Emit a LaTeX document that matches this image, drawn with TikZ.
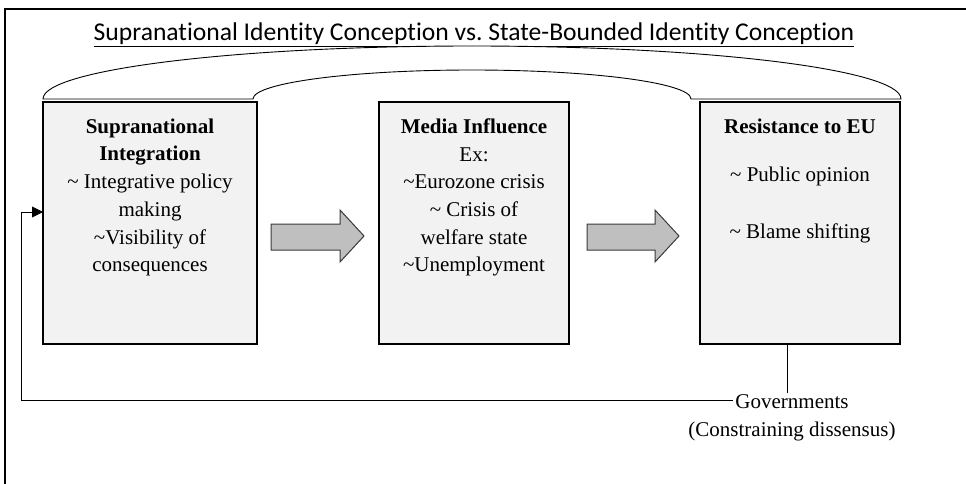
\documentclass[tikz,border=0pt]{standalone}
\usepackage{fontspec}
\setmainfont{Liberation Serif}
\newfontfamily\titlefont[Ligatures=NoCommon]{Carlito}
\usetikzlibrary{arrows.meta}
\definecolor{boxfill}{HTML}{F2F2F2}
\definecolor{arrfill}{HTML}{BFBFBF}
\definecolor{arrline}{HTML}{3A3A3A}
\tikzset{
  stagebox/.style={draw=black, line width=1.4pt, fill=boxfill},
  boxtext/.style={align=center, font=\fontsize{21}{27.7}\selectfont, inner sep=0pt, anchor=north},
  blockarrow/.style={draw=arrline, line width=1pt, fill=arrfill, line join=miter},
  thinline/.style={line width=0.9pt},
}
\frenchspacing
\begin{document}
\begin{tikzpicture}[x=1pt,y=-1pt]
\useasboundingbox (0,0) rectangle (966,484);
% frame (top and left visible)
\draw[line width=1.6pt] (966,9) -- (5,9) -- (5,484);
% title
\node[font=\titlefont\fontsize{25.6}{30}\selectfont, inner sep=0pt, anchor=base] (title) at (474,41) {\underline{Supranational Identity Conception vs.\ State-Bounded Identity Conception}};
% boxes
\draw[stagebox] (43,102) rectangle (257,344);
\draw[stagebox] (379,102) rectangle (569,344);
\draw[stagebox] (700,102) rectangle (900,344);
\coordinate (b1) at (150,118.5);
\coordinate (b2) at (474,118.5);
\coordinate (b3) at (800,118.5);
\node[boxtext] (t1) at (b1) {\textbf{Supranational}\\\textbf{Integration}\\\char`\~{} Integrative policy\\making\\\char`\~Visibility of\\consequences};
\node[boxtext] (t2) at (b2) {\textbf{Media Influence}\\Ex:\\\char`\~Eurozone crisis\\\char`\~{} Crisis of\\welfare state\\\char`\~Unemployment};
\node[boxtext] (t3) at (b3) {\textbf{Resistance to EU}\\[20.3pt]\char`\~{} Public opinion\\[29.3pt]\char`\~{} Blame shifting};
% block arc over boxes
\draw[thinline, fill=white] (43,99) arc[start angle=180, end angle=360, x radius=429, y radius=53]
  -- (691,99) arc[start angle=0, end angle=-180, x radius=219, y radius=29] -- cycle;
% block arrows
\draw[blockarrow] (271,224) -- (340,224) -- (340,210) -- (364,236) -- (340,262) -- (340,250) -- (271,250) -- cycle;
\draw[blockarrow] (587,224) -- (655,224) -- (655,210) -- (679,236) -- (655,262) -- (655,250) -- (587,250) -- cycle;
% governments
\node[font=\fontsize{21}{28}\selectfont, inner sep=2pt] (gov) at (792,402) {Governments};
\node[font=\fontsize{21}{28}\selectfont, inner sep=2pt] (cons) at (792,431) {(Constraining dissensus)};
\coordinate (g3) at (787,344);
\coordinate (fbc) at (21,400);
\coordinate (fbt) at (21,212);
\coordinate (b1in) at (43,212);
\draw[thinline] (g3) -- (g3 |- gov.north);
\draw[thinline, -{Triangle[length=11pt,width=11pt]}] (gov.west |- fbc) -- (fbc) -- (fbt) -- (b1in);
\end{tikzpicture}
\end{document}
